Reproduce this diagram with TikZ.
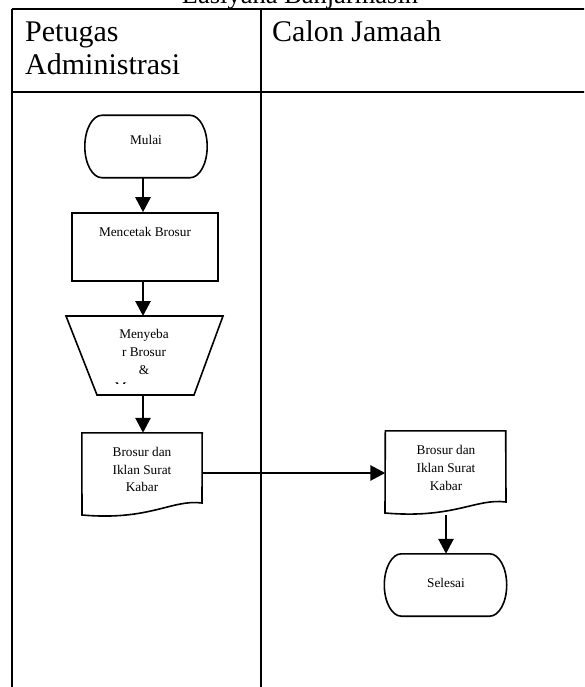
\documentclass[tikz,border=0pt]{standalone}
\usepackage{fontspec}
\setmainfont{Liberation Serif}
\usetikzlibrary{arrows.meta,calc}
\newcommand\termshape[1]{%
  \draw[line width=1.6pt] ($(#1.north west)+(17,0)$) -- ($(#1.north east)+(-17,0)$)
    .. controls +(9.4,0) and ($(#1.east)+(0,-17.1)$) .. (#1.east)
    .. controls +(0,17.1) and ($(#1.south east)+(-7.6,0)$) .. ($(#1.south east)+(-17,0)$)
    -- ($(#1.south west)+(17,0)$)
    .. controls +(-9.4,0) and ($(#1.west)+(0,17.1)$) .. (#1.west)
    .. controls +(0,-17.1) and ($(#1.north west)+(7.6,0)$) .. cycle;}
\begin{document}
\begin{tikzpicture}[x=1pt,y=-1pt,
  tbl/.style={line width=2.2pt},
  shp/.style={draw,line width=1.6pt},
  term/.style={minimum width=122pt,minimum height=62pt,inner sep=0pt},
  proc/.style={shp,minimum width=146pt,minimum height=68pt,inner sep=0pt},
  docbox/.style={minimum width=120pt,minimum height=82pt,inner sep=0pt},
  lbl/.style={font=\fontsize{13.3}{17.8}\selectfont,align=center,inner sep=0pt},
  head/.style={font=\fontsize{30}{33}\selectfont,inner sep=0pt,anchor=base west},
  arr/.style={line width=2.8pt,-{Triangle[width=15pt,length=15pt]}}
]
\useasboundingbox (0,0) rectangle (584,687);
\clip (0,0) rectangle (584,687);
% title (cut off at top, as in the reference)
\node[font=\fontsize{26.5}{30}\selectfont,inner sep=0pt,anchor=base] (title) at (300,4) {Lasiyana Banjarmasin};
% table
\draw[tbl] (12,9) -- (600,9);
\draw[tbl] (12,92) -- (600,92);
\draw[tbl] (12,9) -- (12,700);
\draw[tbl] (261,9) -- (261,700);
\node[head] (h1) at (25,42) {Petugas};
\node[head] (h2) at (25,75) {Administrasi};
\node[head] (h3) at (272,42) {Calon Jamaah};
% Mulai
\node[term] (mulai) at (146,146.5) {};
\termshape{mulai}
\node[lbl] (tmulai) at (146,140) {Mulai};
% Mencetak Brosur
\node[proc] (cetak) at (145,247) {};
\node[lbl] (tcetak) at (145,232) {Mencetak Brosur};
% trapezoid (manual operation)
\coordinate (trT) at (144.5,316);
\coordinate (trB) at (145.5,395);
\draw[line width=1.6pt] (66,316) -- (223,316) -- (194,395) -- (97,395) -- cycle;
\begin{scope}
\clip (60,318) rectangle (230,383.5);
\node[lbl,anchor=north] (ttr) at (144,329) {Menyeba\\r Brosur\\\&\\Memasang};
\end{scope}
% document left
\node[docbox] (doc1) at (142,474) {};
\draw[line width=1.6pt] (doc1.north west) -- (doc1.north east) -- (202,503)
  .. controls (172,499) and (150,521) .. (82,515) -- cycle;
\node[lbl] (tdoc1) at (142,469.5) {Brosur dan\\Iklan Surat\\Kabar};
% document right
\node[docbox] (doc2) at (445.5,472) {};
\draw[line width=1.6pt] (doc2.north west) -- (doc2.north east) -- (506,502)
  .. controls (476,498) and (454,519) .. (385,513) -- cycle;
\node[lbl] (tdoc2) at (446,468) {Brosur dan\\Iklan Surat\\Kabar};
% Selesai
\node[term] (selesai) at (445.5,585) {};
\termshape{selesai}
\node[lbl] (tselesai) at (446,583) {Selesai};
% connectors
\draw[arr] (mulai.south -| 143,0) -- (cetak.north -| 143,0);
\draw[arr] (cetak.south -| 143,0) -- (trT -| 143,0);
\draw[arr] (trB -| 143,0) -- (doc1.north -| 143,0);
\draw[arr] (doc1.east |- 0,473) -- (doc2.west |- 0,473);
\draw[arr] (446,515) -- (selesai.north -| 446,0);
\end{tikzpicture}
\end{document}
